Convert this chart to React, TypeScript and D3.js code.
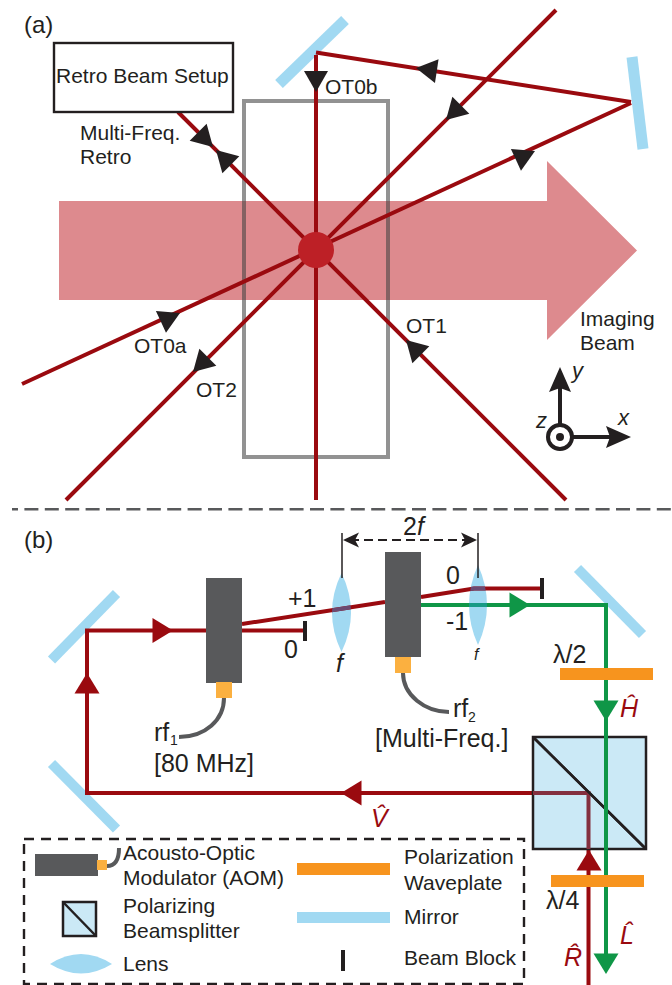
import React from "react";
import * as d3 from "d3";

type Pt = [number, number];
const WIDTH = 672;
const HEIGHT = 985;
const FONT = "'Liberation Sans', Arial, sans-serif";

const INK = "#231f20";
const BEAM = "#9a0a0f";
const GREEN = "#0f9647";
const MIRROR = "#a1d9f2";
const CUBE = "#cbe9f6";
const PLATE = "#f7941e";
const AOM = "#58595b";
const RF = "#fbb040";
const PINK = "#dd8a8e";
const SPOT = "#bd2026";

const imagingBeam: Pt[] = [[59, 201], [547, 201], [547, 161], [637, 250.5], [547, 340], [547, 300], [59, 300]];

const beamsA: Pt[][] = [
  [[316, 55], [316, 500]],
  [[316, 52.5], [631, 102]],
  [[631, 103], [22, 384]],
  [[556, 10], [66, 500]],
  [[178, 112], [566, 500]],
];
// tip x, tip y, heading in degrees (0 = +x, 90 = +y)
const arrowsA: [number, number, number][] = [
  [316, 92, 90],
  [416, 68, 188.6],
  [446, 120, 135],
  [535, 151, -24.8],
  [213, 147, 45],
  [216, 150, 225],
  [180, 313, -24.8],
  [193, 372, 135],
  [406, 340, 225],
];
const mirrorsA: Pt[][] = [
  [[279, 84], [345, 20]],
  [[632, 57], [643, 149]],
];
const mirrorsB: Pt[][] = [
  [[51.5, 660], [116.5, 593.5]],
  [[51.5, 763.5], [116.5, 829]],
  [[577.5, 568.5], [642.5, 634.5]],
];

const redLoop: Pt[] = [[588.5, 985], [588.5, 793], [87, 793], [87, 630.5], [305, 630.5]];
const redFirstOrder: Pt[] = [[242, 624], [385, 602]];
const redSecond: Pt[] = [[421, 597], [474, 588.5], [541, 588.5]];
const greenPath: Pt[] = [[421, 605], [606, 605], [606, 960]];

// tip x, tip y, heading
const redArrows: [number, number, number][] = [
  [173, 630.5, 0],
  [87, 673, -90],
  [341, 793, 180],
  [589, 850, -90],
];
const greenArrows: [number, number, number][] = [
  [530, 605, 0],
  [606, 721, 90],
  [606, 974, 90],
];

// x, y-top, y-bottom, half-width
const lenses: [number, number, number, number][] = [
  [341.5, 573, 652, 9.5],
  [478, 565, 645, 9],
];
const blocks: [number, number, number][] = [
  [305, 621, 641],
  [542, 578, 599],
  [343, 950, 971],
];
const labelsA: [string, number, number][] = [
  ["Retro Beam Setup", 56, 83],
  ["Multi-Freq.", 80, 140],
  ["Retro", 80, 164],
  ["OT0b", 325, 94],
  ["OT0a", 134, 353],
  ["OT2", 196, 397],
  ["OT1", 406, 333],
  ["Imaging", 580, 326],
  ["Beam", 580, 350],
];
const labelsB: [string, number, number][] = [
  ["+1", 288, 607],
  ["0", 284, 658],
  ["0", 446, 584],
  ["-1", 446, 630],
  ["[80 MHz]", 154, 772],
  ["[Multi-Freq.]", 375, 747],
  ["\u03bb/2", 553, 663],
  ["\u03bb/4", 546, 909],
];
const legendLabels: [string, number, number][] = [
  ["Acousto-Optic", 123, 860],
  ["Modulator (AOM)", 123, 885],
  ["Polarizing", 123, 913],
  ["Beamsplitter", 123, 938],
  ["Lens", 123, 971],
  ["Polarization", 404, 864],
  ["Waveplate", 404, 890],
  ["Mirror", 404, 924],
  ["Beam Block", 404, 965],
];
const polarLabels: [string, number, number][] = [
  ["H\u0302", 620, 717],
  ["V\u0302", 371, 827],
  ["R\u0302", 564, 966],
  ["L\u0302", 620, 944],
];

const line = d3.line<Pt>();

function tri(x: number, y: number, deg: number, len = 21, hw = 12.5, notch = 0): string {
  const a = (deg * Math.PI) / 180;
  const ux = Math.cos(a), uy = Math.sin(a);
  const bx = x - ux * len, by = y - uy * len;
  const p = d3.path();
  p.moveTo(x, y);
  p.lineTo(bx - uy * hw, by + ux * hw);
  p.lineTo(x - ux * (len - notch), y - uy * (len - notch));
  p.lineTo(bx + uy * hw, by - ux * hw);
  p.closePath();
  return p.toString();
}

function lensPath(x: number, y0: number, y1: number, hw: number): string {
  const p = d3.path();
  const m = (y0 + y1) / 2;
  p.moveTo(x, y0);
  p.quadraticCurveTo(x + 2 * hw, m, x, y1);
  p.quadraticCurveTo(x - 2 * hw, m, x, y0);
  p.closePath();
  return p.toString();
}

function cube(x0: number, y0: number, x1: number, y1: number, sw: number) {
  return (
    <g>
      <rect x={x0} y={y0} width={x1 - x0} height={y1 - y0} fill={CUBE} stroke={INK} strokeWidth={sw} />
      <path d={line([[x0, y0], [x1, y1]]) as string} stroke={INK} strokeWidth={sw} fill="none" />
    </g>
  );
}

function Txt({ t, x, y, fill = INK, size = 21, italic = false }: { t: string; x: number; y: number; fill?: string; size?: number; italic?: boolean }) {
  return (
    <text x={x} y={y} fill={fill} fontSize={size} fontFamily={FONT} fontStyle={italic ? "italic" : "normal"}>
      {t}
    </text>
  );
}

export default function App() {
  const lensD = lenses.map((l) => lensPath(l[0], l[1], l[2], l[3]));
  return (
    <svg width={WIDTH} height={HEIGHT} viewBox={`0 0 ${WIDTH} ${HEIGHT}`} style={{ position: "absolute", left: 0, top: 0, background: "#fff" }}>
      <defs>
        <clipPath id="lens0"><path d={lensD[0]} /></clipPath>
        <clipPath id="lens1"><path d={lensD[1]} /></clipPath>
      </defs>

      {/* Panel (a) */}
      <path d={(line(imagingBeam) as string) + "Z"} fill={PINK} />
      <rect x={244} y={101} width={144} height={356} fill="none" stroke="#444" strokeOpacity={0.58} strokeWidth={4} />
      {mirrorsA.map((m, i) => (
        <path key={i} d={line(m) as string} stroke={MIRROR} strokeWidth={11} fill="none" />
      ))}
      {beamsA.map((b, i) => (
        <path key={i} d={line(b) as string} stroke={BEAM} strokeWidth={4} fill="none" />
      ))}
      <circle cx={316} cy={250} r={18} fill={SPOT} />
      <rect x={54} y={43} width={179} height={69} fill="#fff" stroke={INK} strokeWidth={2.4} />
      {arrowsA.map((a, i) => (
        <path key={i} d={tri(a[0], a[1], a[2], 21, 12)} fill={INK} />
      ))}
      <Txt t="(a)" x={24} y={33} size={24} />
      {labelsA.map((l, i) => (
        <Txt key={i} t={l[0]} x={l[1]} y={l[2]} />
      ))}

      {/* Axes */}
      <path d={line([[560, 425], [560, 385]]) as string} stroke={INK} strokeWidth={4} />
      <path d={tri(560, 367, -90, 25, 11, 4)} fill={INK} />
      <path d={line([[572, 437], [612, 437]]) as string} stroke={INK} strokeWidth={4} />
      <path d={tri(631, 437, 0, 25, 11, 4)} fill={INK} />
      <circle cx={560} cy={437} r={12} fill="#fff" stroke={INK} strokeWidth={4} />
      <circle cx={560} cy={437} r={4} fill={INK} />
      <Txt t="y" x={572} y={378} italic size={22} />
      <Txt t="x" x={618} y={425} italic size={22} />
      <Txt t="z" x={536} y={428} italic size={22} />

      {/* Separator */}
      <path d={line([[12, 509.3], [672, 509.3]]) as string} stroke="#58595b" strokeWidth={2.6} strokeDasharray="14 6.4" strokeDashoffset={8} />

      {/* Panel (b) */}
      <Txt t="(b)" x={24} y={548} size={24} />
      {mirrorsB.map((m, i) => (
        <path key={i} d={line(m) as string} stroke={MIRROR} strokeWidth={10} fill="none" />
      ))}

      {lensD.map((d, i) => (
        <path key={i} d={d} fill={MIRROR} />
      ))}

      {/* Red light */}
      <path d={line(redLoop) as string} stroke={BEAM} strokeWidth={4} fill="none" />
      <path d={line(redFirstOrder) as string} stroke={BEAM} strokeWidth={4} fill="none" />
      <path d={line(redSecond) as string} stroke={BEAM} strokeWidth={4} fill="none" />
      <g clipPath="url(#lens0)">
        <path d={line(redFirstOrder) as string} stroke="#6b4a72" strokeWidth={4} fill="none" />
      </g>
      <g clipPath="url(#lens1)">
        <path d={line(redSecond) as string} stroke="#6b4a72" strokeWidth={4} fill="none" />
      </g>

      {/* Beam splitter */}
      {cube(533, 737, 646, 849, 2.5)}
      <path d={line([[533, 793], [588.5, 793], [588.5, 849]]) as string} stroke="#84303f" strokeWidth={4} fill="none" />
      <path d={line([[533, 737], [646, 849]]) as string} stroke={INK} strokeWidth={2.5} fill="none" />

      {/* Green light */}
      <path d={line(greenPath) as string} stroke={GREEN} strokeWidth={4} fill="none" />
      <g clipPath="url(#lens1)">
        <path d={line(greenPath) as string} stroke="#179a86" strokeWidth={4} fill="none" />
      </g>

      {/* Waveplates */}
      <rect x={560} y={668} width={93} height={12} fill={PLATE} />
      <rect x={551} y={875} width={93} height={12} fill={PLATE} />

      {redArrows.map((a, i) => (
        <path key={i} d={tri(a[0], a[1], a[2], 20.5, 12.5)} fill={BEAM} />
      ))}
      {greenArrows.map((a, i) => (
        <path key={i} d={tri(a[0], a[1], a[2], 20.5, 12.5)} fill={GREEN} />
      ))}

      {/* AOMs */}
      <rect x={206} y={578} width={36} height={105} fill={AOM} />
      <rect x={216} y={682} width={16} height={16} fill={RF} />
      <path d="M224,698C224,720 205,737 179,737" fill="none" stroke={AOM} strokeWidth={4} />
      <rect x={385} y={552} width={36} height={105} fill={AOM} />
      <rect x={395} y={657} width={16} height={16} fill={RF} />
      <path d="M403,673C403,695 425,712 449,712" fill="none" stroke={AOM} strokeWidth={4} />

      {/* 2f dimension */}
      <path d={line([[342, 533], [342, 578]]) as string} stroke={INK} strokeWidth={1.5} />
      <path d={line([[478, 533], [478, 578]]) as string} stroke={INK} strokeWidth={1.5} />
      <path d={line([[350, 540], [468, 540]]) as string} stroke={INK} strokeWidth={2} strokeDasharray="9 5" />
      <path d={tri(343, 540, 180, 16, 7.5, 4)} fill={INK} />
      <path d={tri(477, 540, 0, 16, 7.5, 4)} fill={INK} />
      <text x={403} y={535} fill={INK} fontSize={25} fontFamily={FONT}>
        2<tspan fontStyle="italic">f</tspan>
      </text>
      <Txt t="f" x={336} y={672} italic size={25} />
      <Txt t="f" x={474} y={660} size={16} italic />

      {blocks.map((b, i) => (
        <path key={i} d={line([[b[0], b[1]], [b[0], b[2]]]) as string} stroke={INK} strokeWidth={4} />
      ))}

      {labelsB.map((l, i) => (
        <Txt key={i} t={l[0]} x={l[1]} y={l[2]} size={25} />
      ))}
      <Txt t="rf" x={154} y={741} size={25} />
      <Txt t="1" x={170} y={745} size={14} />
      <Txt t="rf" x={453} y={717} size={25} />
      <Txt t="2" x={468} y={722} size={14} />
      {polarLabels.map((l, i) => (
        <Txt key={i} t={l[0]} x={l[1]} y={l[2]} fill={BEAM} italic size={25} />
      ))}

      {/* Legend */}
      <rect x={24} y={839} width={500} height={145} fill="none" stroke={INK} strokeWidth={2.4} strokeDasharray="10 7" />
      <rect x={35} y={854} width={63} height={22} fill={AOM} />
      <rect x={97} y={860} width={10} height={10} fill={RF} />
      <path d="M107,866C115,866 119,860 119,848" fill="none" stroke={AOM} strokeWidth={4} />
      {cube(63, 902, 96, 936, 2.5)}
      <path d="M50,964Q81,944 112,964Q81,983 50,964Z" fill={MIRROR} />
      <rect x={297} y={863} width={93} height={12} fill={PLATE} />
      <rect x={297} y={912} width={93} height={11} fill={MIRROR} />
      {legendLabels.map((l, i) => (
        <Txt key={i} t={l[0]} x={l[1]} y={l[2]} />
      ))}
    </svg>
  );
}
